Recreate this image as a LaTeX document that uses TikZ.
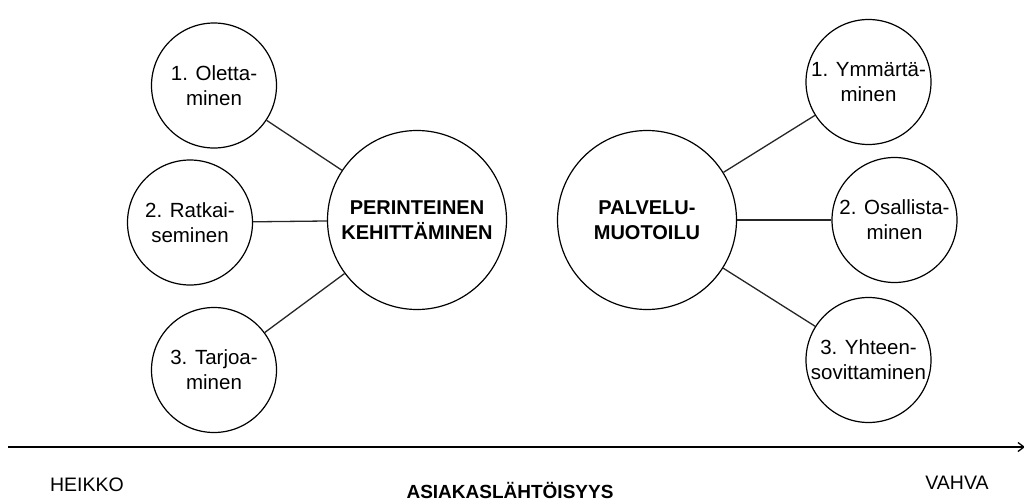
\documentclass[tikz,border=0pt]{standalone}
\usepackage{fontspec}
\setmainfont{Liberation Sans}
\usetikzlibrary{arrows.meta}

\tikzset{
  small/.style={circle, draw=black, line width=1.2pt, minimum size=125pt, inner sep=0pt,
    align=center, font=\fontsize{20.5}{25}\selectfont},
  big/.style={circle, draw=black, line width=1.2pt, minimum size=179pt, inner sep=0pt,
    align=center, font=\fontsize{20}{25}\selectfont\bfseries},
  link/.style={draw=black!85, line width=1.3pt},
  label/.style={inner sep=0pt, font=\fontsize{19.5}{24}\selectfont}
}

\begin{document}
\begin{tikzpicture}[x=1pt, y=-1pt]
  \useasboundingbox (0,0) rectangle (1024,503);

  % traditional development and its three phases
  \node[big]   (trad) at (417,220) {PERINTEINEN\\KEHITTÄMINEN};
  \node[small] (t1)   at (214,85.5) {1. Oletta-\\minen};
  \node[small] (t2)   at (190,222.5) {2. Ratkai-\\seminen};
  \node[small] (t3)   at (214,370) {3. Tarjoa-\\minen};

  % service design and its three phases
  \node[big]   (sd) at (647,220) {PALVELU-\\MUOTOILU};
  \node[small] (s1) at (868.5,82) {1. Ymmärtä-\\minen};
  \node[small] (s2) at (894.5,220) {2. Osallista-\\minen};
  \node[small] (s3) at (868.5,360) {3. Yhteen-\\sovittaminen};

  \draw[link] (t1) -- (trad);
  \draw[link] (t2) -- (trad);
  \draw[link] (t3) -- (trad);
  \draw[link] (sd) -- (s1);
  \draw[link] (sd) -- (s2);
  \draw[link] (sd) -- (s3);

  % customer-orientation axis
  \coordinate (axL) at (8,447);
  \coordinate (axR) at (1025,447);
  \draw[line width=1.3pt, -{Straight Barb[length=6pt, width=9pt]}] (axL) -- (axR);

  \node[label] (weak)   at (87,485) {HEIKKO};
  \node[label] (strong) at (957,483) {VAHVA};
  \node[label, font=\fontsize{19}{24}\selectfont\bfseries] (axis) at (510,490.5) {ASIAKASLÄHTÖISYYS};
\end{tikzpicture}
\end{document}
